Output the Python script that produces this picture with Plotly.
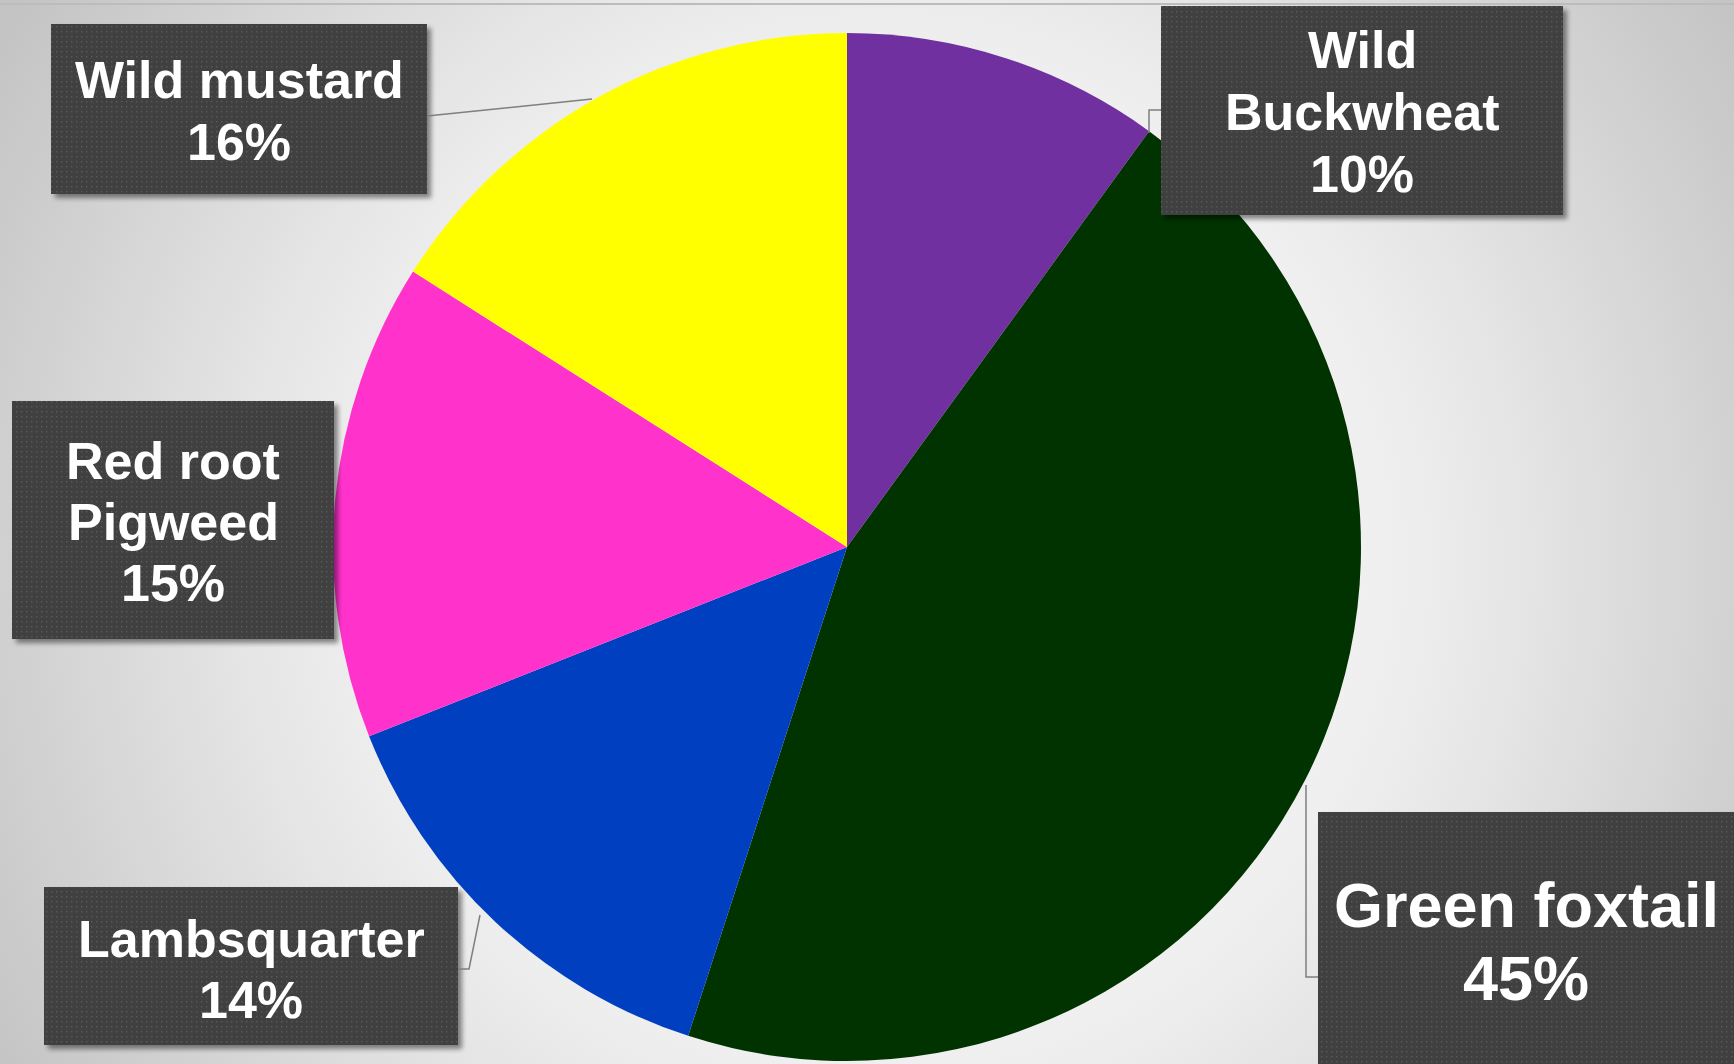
import base64
import plotly.graph_objects as go

# Weed species share (percent), listed clockwise from 12 o'clock
species = ["Wild Buckwheat", "Green foxtail", "Lambsquarter", "Red root Pigweed", "Wild mustard"]
shares = [10, 45, 14, 15, 16]
colors = ["#7030A0", "#003300", "#003FBF", "#FF33CC", "#FFFF00"]
# How each species name wraps inside its label box
label_lines = {
    "Wild Buckwheat": ["Wild", "Buckwheat"],
    "Green foxtail": ["Green foxtail"],
    "Lambsquarter": ["Lambsquarter"],
    "Red root Pigweed": ["Red root", "Pigweed"],
    "Wild mustard": ["Wild mustard"],
}

W, H = 1734, 1064

# Label box layout in pixels: (x0, y0, x1, y1), text centre x, first line y, line step, font size
boxes = {
    "Wild Buckwheat": ((1161, 6, 1563, 215), 1362, 50, 62, 52),
    "Green foxtail": ((1318, 812, 1740, 1070), 1526, 905, 73, 63),
    "Lambsquarter": ((44, 887, 458, 1045), 251, 939, 61, 52),
    "Red root Pigweed": ((12, 401, 334, 639), 173, 461, 61, 52),
    "Wild mustard": ((51, 24, 427, 194), 239, 80, 62, 52),
}

# Leader lines from boxes to the pie rim, in pixels
leaders = {
    "Wild Buckwheat": [(1161, 110), (1149, 110), (1149, 133)],
    "Green foxtail": [(1306, 785), (1306, 977), (1318, 977)],
    "Lambsquarter": [(458, 969), (469, 969), (480, 915)],
    "Wild mustard": [(427, 116), (592, 99)],
}


def px(x):
    return x / W


def py(y):
    return 1 - y / H


def svg_uri(body):
    svg = (f'<svg xmlns="http://www.w3.org/2000/svg" width="{W}" height="{H}" '
           f'viewBox="0 0 {W} {H}" preserveAspectRatio="none">{body}</svg>')
    return "data:image/svg+xml;base64," + base64.b64encode(svg.encode()).decode()


# Soft radial backdrop
bg_body = (
    '<defs><radialGradient id="g" gradientUnits="userSpaceOnUse" cx="880" cy="560" r="1020">'
    '<stop offset="0" stop-color="#fbfbfb"/>'
    '<stop offset="0.5" stop-color="#efefef"/>'
    '<stop offset="0.62" stop-color="#e6e6e6"/>'
    '<stop offset="0.86" stop-color="#d0d0d0"/>'
    '<stop offset="1" stop-color="#c4c4c4"/>'
    '</radialGradient></defs>'
    f'<rect x="0" y="0" width="{W}" height="{H}" fill="url(#g)"/>'
)

# Dark, dotted label boxes with a drop shadow
box_body = (
    '<defs>'
    '<filter id="sh" x="-10%" y="-10%" width="130%" height="130%">'
    '<feGaussianBlur stdDeviation="2.5"/></filter>'
    '<pattern id="dots" width="5" height="5" patternUnits="userSpaceOnUse">'
    '<rect x="1" y="1" width="1.4" height="1.4" fill="#5a5a5a"/></pattern>'
    '</defs>'
)
for name in species:
    (x0, y0, x1, y1), *_ = boxes[name]
    w, h = x1 - x0, y1 - y0
    box_body += (f'<rect x="{x0 + 4}" y="{y0 + 4}" width="{w}" height="{h}" '
                 f'fill="#000" opacity="0.45" filter="url(#sh)"/>')
    box_body += f'<rect x="{x0}" y="{y0}" width="{w}" height="{h}" fill="#404040"/>'
    box_body += f'<rect x="{x0}" y="{y0}" width="{w}" height="{h}" fill="url(#dots)"/>'

fig = go.Figure(
    go.Pie(
        labels=species,
        values=shares,
        sort=False,
        direction="clockwise",
        rotation=0,
        marker=dict(colors=colors, line=dict(width=0)),
        textinfo="none",
        hoverinfo="label+percent",
        showlegend=False,
        domain=dict(x=[px(847 - 514), px(847 + 514)], y=[py(547 + 514), py(547 - 514)]),
    )
)

shapes = [
    dict(type="line", xref="paper", yref="paper", x0=0, x1=1, y0=py(4), y1=py(4),
         line=dict(color="#bcbcbc", width=2), layer="above")
]
for name, pts in leaders.items():
    path = "M " + " L ".join(f"{px(x)},{py(y)}" for x, y in pts)
    shapes.append(dict(type="path", xref="paper", yref="paper", path=path,
                       line=dict(color="#7f7f7f", width=1.5), layer="above"))

annotations = []
for name, share in zip(species, shares):
    _, cx, y_first, step, size = boxes[name]
    lines = label_lines[name] + [f"{share}%"]
    for i, line in enumerate(lines):
        annotations.append(dict(
            text=line, xref="paper", yref="paper",
            x=px(cx), y=py(y_first + i * step),
            xanchor="center", yanchor="middle", showarrow=False,
            font=dict(family="Liberation Sans, Arial, sans-serif", size=size,
                      color="#ffffff", weight="bold"),
        ))

fig.update_layout(
    width=W, height=H,
    margin=dict(l=0, r=0, t=0, b=0),
    paper_bgcolor="#ffffff",
    plot_bgcolor="rgba(0,0,0,0)",
    images=[
        dict(source=svg_uri(bg_body), xref="paper", yref="paper", x=0, y=1,
             sizex=1, sizey=1, xanchor="left", yanchor="top",
             sizing="stretch", layer="below"),
        dict(source=svg_uri(box_body), xref="paper", yref="paper", x=0, y=1,
             sizex=1, sizey=1, xanchor="left", yanchor="top",
             sizing="stretch", layer="above"),
    ],
    shapes=shapes,
    annotations=annotations,
)

fig.write_html("out.html", config={"displayModeBar": False})
